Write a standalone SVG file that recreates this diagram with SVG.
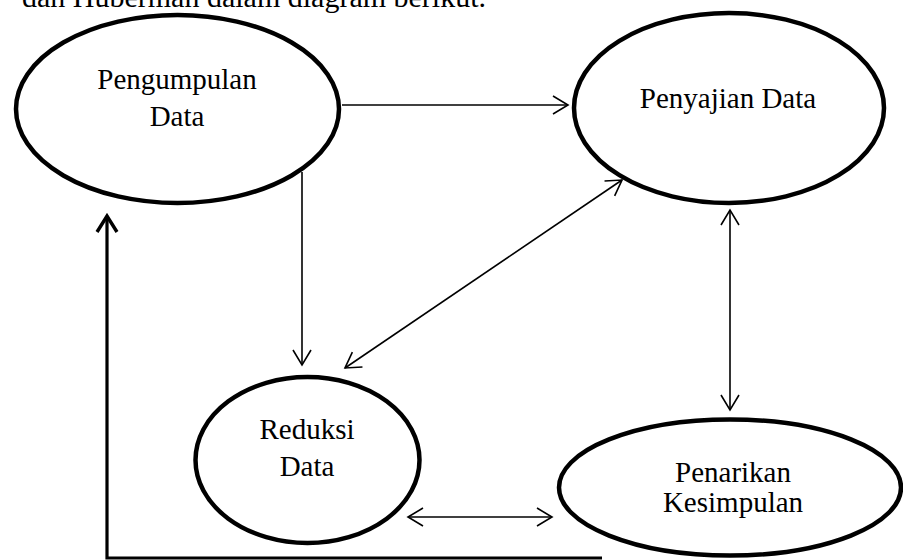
<svg xmlns="http://www.w3.org/2000/svg" width="903" height="560" viewBox="0 0 903 560">
<style>
.node ellipse{fill:#fff;stroke:#000;stroke-width:4.5}
.node text,.caption{font-family:"Liberation Serif","Times New Roman",serif;font-size:29px;fill:#000;text-anchor:middle}
.caption{text-anchor:start;font-size:30px}
.conn{fill:none;stroke:#000;stroke-width:1.6}
.thick{fill:none;stroke:#000;stroke-width:3.2}
</style>
<defs>
<marker id="arr" viewBox="-18 -11 20 22" refX="0" refY="0" markerUnits="userSpaceOnUse" markerWidth="20" markerHeight="22" orient="auto-start-reverse">
<path d="M-15,-9 L0,0 L-15,9" fill="none" stroke="#000" stroke-width="1.6"/>
</marker>
<marker id="arrT" viewBox="-20 -13 23 26" refX="0" refY="0" markerUnits="userSpaceOnUse" markerWidth="23" markerHeight="26" orient="auto-start-reverse">
<path d="M-16,-10 L0,0 L-16,10" fill="none" stroke="#000" stroke-width="3.4" stroke-linejoin="miter"/>
</marker>
</defs>
<rect width="903" height="560" fill="#fff"/>
<text class="caption" x="22" y="7">dan Huberman dalam diagram berikut.</text>
<g id="connectors">
<line class="conn" x1="342" y1="105" x2="568" y2="105" marker-end="url(#arr)"/>
<line class="conn" x1="302" y1="172" x2="302" y2="365" marker-end="url(#arr)"/>
<line class="conn" x1="345" y1="368" x2="622" y2="180" marker-start="url(#arr)" marker-end="url(#arr)"/>
<line class="conn" x1="730" y1="210" x2="730" y2="410" marker-start="url(#arr)" marker-end="url(#arr)"/>
<line class="conn" x1="408" y1="517" x2="552" y2="517" marker-start="url(#arr)" marker-end="url(#arr)"/>
<polyline class="thick" points="602,558 107,558 107,216" marker-end="url(#arrT)"/>
</g>
<g id="pengumpulan" class="node">
<ellipse cx="177.5" cy="109" rx="161.5" ry="94"/>
<text x="177" y="89">Pengumpulan</text>
<text x="177" y="126">Data</text>
</g>
<g id="penyajian" class="node">
<ellipse cx="729" cy="108" rx="155" ry="95"/>
<text x="728" y="108">Penyajian Data</text>
</g>
<g id="reduksi" class="node">
<ellipse cx="307.5" cy="460" rx="112" ry="83"/>
<text x="307" y="439">Reduksi</text>
<text x="307" y="476">Data</text>
</g>
<g id="penarikan" class="node">
<ellipse cx="730" cy="487.5" rx="171" ry="68"/>
<text x="733" y="482">Penarikan</text>
<text x="733" y="512">Kesimpulan</text>
</g>
</svg>
